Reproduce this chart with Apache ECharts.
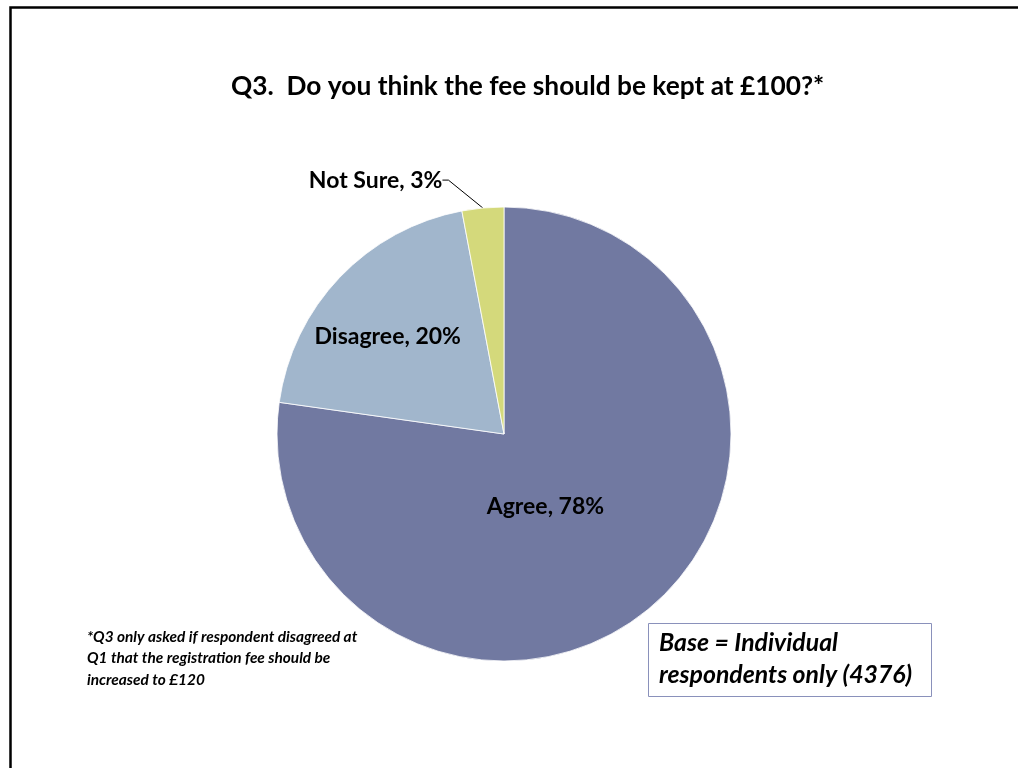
<!DOCTYPE html>
<html>
<head>
<meta charset="utf-8">
<script src="https://cdn.jsdelivr.net/npm/echarts@6/dist/echarts.min.js"></script>
<style>
  html, body { margin: 0; padding: 0; background: #ffffff; }
  #chart { width: 1018px; height: 768px; }
</style>
</head>
<body>
<div id="chart"></div>
<script>
// Survey answers to Q3, in percent
const categories = ['Agree', 'Disagree', 'Not Sure'];
const shares = [78, 20, 3];

const titleText = 'Q3.  Do you think the fee should be kept at \u00a3100?*';
const footnoteLines = [
  '*Q3 only asked if respondent disagreed at',
  'Q1 that the registration fee should be',
  'increased to \u00a3120'
];
const baseLines = ['Base = Individual', 'respondents only (4376)'];

const FONT = 'Lato, "Open Sans", sans-serif';
const sliceColors = ['#7179a1', '#a1b6cc', '#d4d97b'];

// per-slice label placement
const labelStyles = [
  { position: 'inside', offset: [-35, -15] },
  { position: 'inside', offset: [-32, -17] },
  { position: 'outside' }
];

const chart = echarts.init(document.getElementById('chart'), null, { renderer: 'canvas' });

const option = {
  backgroundColor: '#ffffff',
  animation: false,
  title: {
    text: titleText,
    left: 231,
    top: 74,
    padding: 0,
    textStyle: { fontFamily: FONT, fontSize: 26.3, fontWeight: 'bold', color: '#000000' }
  },
  graphic: [
    {
      type: 'rect',
      left: 8, top: 5,
      shape: { width: 1100, height: 900 },
      style: { fill: 'none', stroke: '#000000', lineWidth: 2.5 },
      silent: true
    },
    {
      type: 'text',
      left: 87, top: 626,
      style: {
        text: footnoteLines.join('\n'),
        fontFamily: FONT, fontSize: 15.4, fontWeight: 'bold', fontStyle: 'italic',
        lineHeight: 21.5, fill: '#000000'
      }
    },
    {
      type: 'rect',
      left: 648, top: 623,
      shape: { width: 283, height: 73 },
      style: { fill: '#ffffff', stroke: '#8a91bb', lineWidth: 1 }
    },
    {
      type: 'text',
      left: 659, top: 627,
      style: {
        text: baseLines.join('\n'),
        fontFamily: FONT, fontSize: 24.8, fontWeight: 'bold', fontStyle: 'italic',
        lineHeight: 32, fill: '#000000'
      }
    }
  ],
  series: [
    {
      type: 'pie',
      center: [504, 434],
      radius: [0, 227],
      startAngle: 90,
      clockwise: true,
      avoidLabelOverlap: false,
      itemStyle: { borderColor: '#ffffff', borderWidth: 0.8 },
      label: {
        show: true,
        formatter: '{b}, {c}%',
        fontFamily: FONT,
        fontSize: 23,
        fontWeight: 'bold',
        color: '#000000'
      },
      labelLine: {
        show: true,
        length: 26,
        length2: 6,
        lineStyle: { color: '#000000', width: 1 }
      },
      // move the outside label up-left so its leader runs diagonally to the slice
      labelLayout: function (params) {
        if (params.dataIndex !== 2) return {};
        return {
          x: params.labelRect.x - 27,
          y: params.labelRect.y - 2,
          align: 'left',
          verticalAlign: 'top'
        };
      },
      emphasis: { disabled: true },
      data: categories.map((name, i) => ({
        name: name,
        value: shares[i],
        itemStyle: { color: sliceColors[i] },
        label: labelStyles[i],
        labelLine: { show: labelStyles[i].position === 'outside' }
      }))
    }
  ]
};

chart.setOption(option);
</script>
</body>
</html>
